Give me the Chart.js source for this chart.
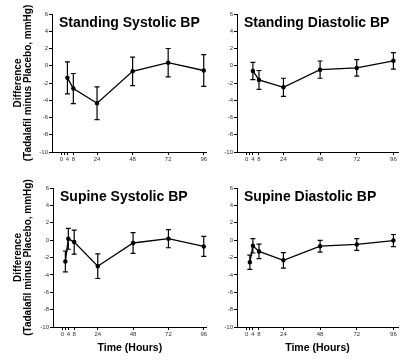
<!DOCTYPE html>
<html>
<head>
<meta charset="utf-8">
<script src="https://cdn.jsdelivr.net/npm/chart.js@4/dist/chart.umd.min.js"></script>
<style>
  body { margin: 0; background: #fff; }
  #wrap { position: relative; width: 415px; height: 362px; overflow: hidden; }
  canvas { position: absolute; }
</style>
</head>
<body>
<div id="wrap">
  <canvas id="c1" width="212" height="175" style="left:0;top:0"></canvas>
  <canvas id="c2" width="203" height="175" style="left:212px;top:0"></canvas>
  <canvas id="c3" width="212" height="187" style="left:0;top:175px"></canvas>
  <canvas id="c4" width="203" height="187" style="left:212px;top:175px"></canvas>
</div>
<script>
// horas de medida
const horasEmPe = [4, 8, 24, 48, 72, 96];
const horasSupino = [2, 4, 8, 24, 48, 72, 96];

// diferença tadalafil - placebo (mmHg) e meia-barra de erro
const emPeSistolica = [-1.4, -2.65, -4.35, -0.65, 0.35, -0.55];
const emPeSistolicaErro = [1.85, 1.75, 1.9, 1.65, 1.65, 1.85];
const emPeDiastolica = [-0.6, -1.65, -2.5, -0.45, -0.25, 0.57];
const emPeDiastolicaErro = [1.0, 1.1, 1.05, 1.0, 0.95, 0.95];
const supinoSistolica = [-2.45, 0.15, -0.23, -3.0, -0.33, 0.17, -0.72];
const supinoSistolicaErro = [1.2, 1.2, 1.38, 1.42, 1.2, 1.05, 1.15];
const supinoDiastolica = [-2.55, -0.65, -1.3, -2.33, -0.7, -0.5, -0.05];
const supinoDiastolicaErro = [0.82, 0.83, 0.83, 0.9, 0.68, 0.67, 0.7];

// ticks
const ticksX = [0, 2, 4, 8, 24, 48, 72, 96];
const rotulosX = { 0: '0', 4: '4', 8: '8', 24: '24', 48: '48', 72: '72', 96: '96' };
const tituloY = ['Difference', '(Tadalafil minus Placebo, mmHg)'];
const tituloX = 'Time (Hours)';

const fonte = '"Liberation Sans", Arial, sans-serif';

// barras de erro desenhadas com as escalas do gráfico
const barrasErro = {
  id: 'barrasErro',
  afterDatasetsDraw(chart, args, opts) {
    const { ctx, scales: { x, y } } = chart;
    const dados = chart.data.datasets[0].data;
    ctx.save();
    ctx.strokeStyle = '#000';
    ctx.lineWidth = 1.2;
    dados.forEach((p, i) => {
      const e = opts.erros[i];
      const px = x.getPixelForValue(p.x);
      const topo = y.getPixelForValue(p.y + e);
      const base = y.getPixelForValue(p.y - e);
      ctx.beginPath();
      ctx.moveTo(px, topo); ctx.lineTo(px, base);
      ctx.moveTo(px - 2.5, topo); ctx.lineTo(px + 2.5, topo);
      ctx.moveTo(px - 2.5, base); ctx.lineTo(px + 2.5, base);
      ctx.stroke();
    });
    ctx.restore();
  }
};

// título dentro da área do gráfico
const tituloPainel = {
  id: 'tituloPainel',
  afterDraw(chart, args, opts) {
    const { ctx, chartArea } = chart;
    ctx.save();
    ctx.fillStyle = '#000';
    ctx.font = 'bold 14px ' + fonte;
    ctx.textBaseline = 'alphabetic';
    ctx.fillText(opts.texto, chartArea.left + 7, chartArea.top + 13);
    ctx.restore();
  }
};

function criarPainel(id, titulo, horas, valores, erros, cfg) {
  return new Chart(document.getElementById(id), {
    type: 'line',
    data: {
      datasets: [{
        data: horas.map((h, i) => ({ x: h, y: valores[i] })),
        borderColor: '#000',
        backgroundColor: '#000',
        borderWidth: 1.3,
        pointRadius: 1.6,
        pointBackgroundColor: '#000',
        tension: 0
      }]
    },
    options: {
      responsive: false,
      animation: false,
      devicePixelRatio: 1,
      layout: { padding: { top: cfg.topo, right: cfg.direita, left: 0, bottom: 0 } },
      plugins: {
        legend: { display: false },
        tooltip: { enabled: false },
        barrasErro: { erros },
        tituloPainel: { texto: titulo }
      },
      scales: {
        x: {
          type: 'linear',
          min: -6.4,
          max: cfg.maxX,
          afterBuildTicks: s => { s.ticks = ticksX.map(v => ({ value: v })); },
          afterFit: s => { s.height = cfg.alturaX; s.paddingLeft = 0; s.paddingRight = 0; },
          border: { color: '#000', width: 1 },
          grid: { drawOnChartArea: false, color: '#000', tickLength: 3 },
          ticks: {
            autoSkip: false, maxRotation: 0, minRotation: 0, padding: 1,
            color: '#333', font: { size: 6, family: fonte },
            callback: v => rotulosX[v] ?? ''
          },
          title: {
            display: cfg.mostraX, text: tituloX, color: '#000',
            font: { size: 10.5, weight: 'bold', family: fonte },
            padding: { top: 0, bottom: 8 }
          }
        },
        y: {
          min: -10,
          max: 6,
          afterFit: s => { s.width = cfg.larguraY; s.paddingTop = 0; s.paddingBottom = 0; },
          border: { color: '#000', width: 1 },
          grid: { drawOnChartArea: false, color: '#000', tickLength: 3 },
          ticks: {
            stepSize: 2, padding: 1,
            color: '#333', font: { size: 6, family: fonte }
          },
          title: {
            display: cfg.mostraY, text: tituloY, color: '#000',
            font: { size: 10, weight: 'bold', family: fonte, lineHeight: 1.0 },
            padding: { top: 13, bottom: 0 }
          }
        }
      }
    },
    plugins: [barrasErro, tituloPainel]
  });
}

criarPainel('c1', 'Standing Systolic BP', horasEmPe, emPeSistolica, emPeSistolicaErro,
  { topo: 14, direita: 2, alturaX: 23, larguraY: 52, maxX: 98, mostraX: false, mostraY: true });
criarPainel('c2', 'Standing Diastolic BP', horasEmPe, emPeDiastolica, emPeDiastolicaErro,
  { topo: 14, direita: 17, alturaX: 23, larguraY: 25, maxX: 99, mostraX: false, mostraY: false });
criarPainel('c3', 'Supine Systolic BP', horasSupino, supinoSistolica, supinoSistolicaErro,
  { topo: 13, direita: 2, alturaX: 35, larguraY: 53, maxX: 98, mostraX: true, mostraY: true });
criarPainel('c4', 'Supine Diastolic BP', horasSupino, supinoDiastolica, supinoDiastolicaErro,
  { topo: 13, direita: 17, alturaX: 35, larguraY: 25, maxX: 99, mostraX: true, mostraY: false });
</script>
</body>
</html>
